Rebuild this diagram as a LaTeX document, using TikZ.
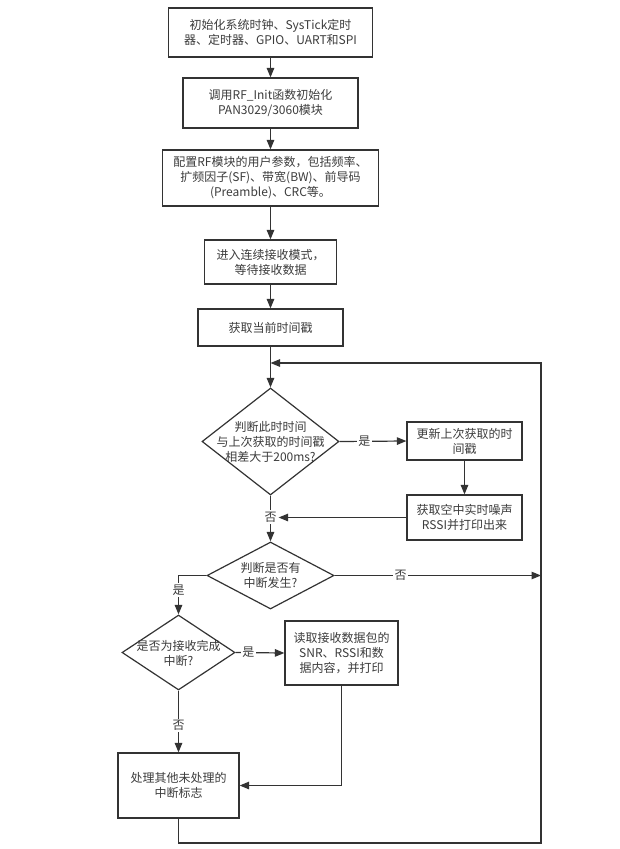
\documentclass[tikz,border=0pt]{standalone}
\usepackage{fontspec}
\setmainfont{Noto Sans CJK SC}
\usepackage{xcolor}
\usepackage{tikz}
\usetikzlibrary{positioning}
\usetikzlibrary{calc}
\usetikzlibrary{shapes.geometric}
\usetikzlibrary{arrows.meta}
\definecolor{linegray}{HTML}{333333}
\definecolor{textgray}{HTML}{3C3C3C}
\tikzset{procbox/.style={draw=linegray, line width=1.2pt, fill=white, text=textgray, align=center, inner sep=0pt, font=\fontsize{12}{15}\selectfont}}
\tikzset{decision/.style={diamond, draw=linegray, line width=1.2pt, fill=white, inner sep=0pt}}
\tikzset{dtext/.style={text=textgray, align=center, inner sep=0pt, font=\fontsize{12}{15}\selectfont}}
\tikzset{flow/.style={draw=linegray, line width=1.2pt, -{Triangle[length=9.5pt,width=7.5pt]}}}
\tikzset{yesno/.style={fill=white, text=textgray, inner sep=1.5pt, font=\fontsize{12}{15}\selectfont}}

\begin{document}
\begin{tikzpicture}[x=1pt, y=-1pt]
\useasboundingbox (0,0) rectangle (619,849);
\node[procbox, minimum width=204pt, minimum height=49pt] (init) at (270.5,32.5) {初始化系统时钟、SysTick定时\\器、定时器、GPIO、UART和SPI};
\node[procbox, minimum width=175pt, minimum height=50pt] (rfinit) at (270.5,103) {调用RF\_Init函数初始化\\PAN3029/3060模块};
\node[procbox, minimum width=216pt, minimum height=56pt] (config) at (270.5,178) {配置RF模块的用户参数，包括频率、\\扩频因子(SF)、带宽(BW)、前导码\\(Preamble)、CRC等。};
\node[procbox, minimum width=132pt, minimum height=44pt] (rxmode) at (270.5,262) {进入连续接收模式，\\等待接收数据};
\node[procbox, minimum width=145pt, minimum height=37pt] (gettime) at (270.5,327.5) {获取当前时间戳};
%
\node[decision, minimum width=137pt, minimum height=107pt] (chktime) at (270.5,441.5) {};
\node[dtext] (chktimet) at (chktime) {判断此时时间\\与上次获取的时间戳\\相差大于200ms?};
\node[procbox, minimum width=115pt, minimum height=38pt] (update) at (464.5,441) {更新上次获取的时\\间戳};
\node[procbox, minimum width=115pt, minimum height=45pt] (rssi) at (464.5,517.5) {获取空中实时噪声\\RSSI并打印出来};
\node[decision, minimum width=127pt, minimum height=67pt] (chkirq) at (270.5,575.5) {};
\node[dtext] (chkirqt) at (chkirq) {判断是否有\\中断发生?};
\node[decision, minimum width=113pt, minimum height=75pt] (chkrx) at (178.5,652.5) {};
\node[dtext] (chkrxt) at (178.5,653.5) {是否为接收完成\\中断?};
\node[procbox, minimum width=113pt, minimum height=64pt] (readpkt) at (341.5,653) {读取接收数据包的\\SNR、RSSI和数\\据内容，并打印};
\node[procbox, minimum width=121pt, minimum height=65pt] (others) at (178.5,785.5) {处理其他未处理的\\中断标志};
%
\coordinate (aux1) at (178.5,843);
\coordinate (aux2) at (541,843);
\coordinate (aux3) at (541,363);
\coordinate (aux4) at (270.5,363);
\coordinate (aux5) at (178.5,575.5);

\draw[flow] (init) -- (rfinit);
\draw[flow] (rfinit) -- (config);
\draw[flow] (config) -- (rxmode);
\draw[flow] (rxmode) -- (gettime);
\draw[flow] (gettime) -- (chktime.north);
\draw[flow] (chktime.east) -- node[yesno, pos=0.37] {是} (update.west);
\draw[flow] (update) -- (rssi);
\draw[flow] (chktime.south) -- node[yesno, pos=0.47] (no1) {否} (chkirq.north);
\draw[flow] (rssi.west) -- (rssi.west -| no1.east);
\draw[flow] (chkirq.east) -- node[yesno, pos=0.32] {否} (chkirq.east -| aux3);
\draw[flow] (chkirq.west) -- (aux5) -- node[yesno, pos=0.37] {是} (chkrx.north);
\draw[flow] (chkrx.east) -- node[yesno, pos=0.26] {是} (readpkt.west);
\draw[flow] (chkrx.south) -- node[yesno, pos=0.56] {否} (others.north);
\draw[flow] (readpkt.south) |- (others.east);
\draw[flow] (others.south) -- (aux1) -- (aux2) -- (aux3) -- (aux4);
\end{tikzpicture}
\end{document}
